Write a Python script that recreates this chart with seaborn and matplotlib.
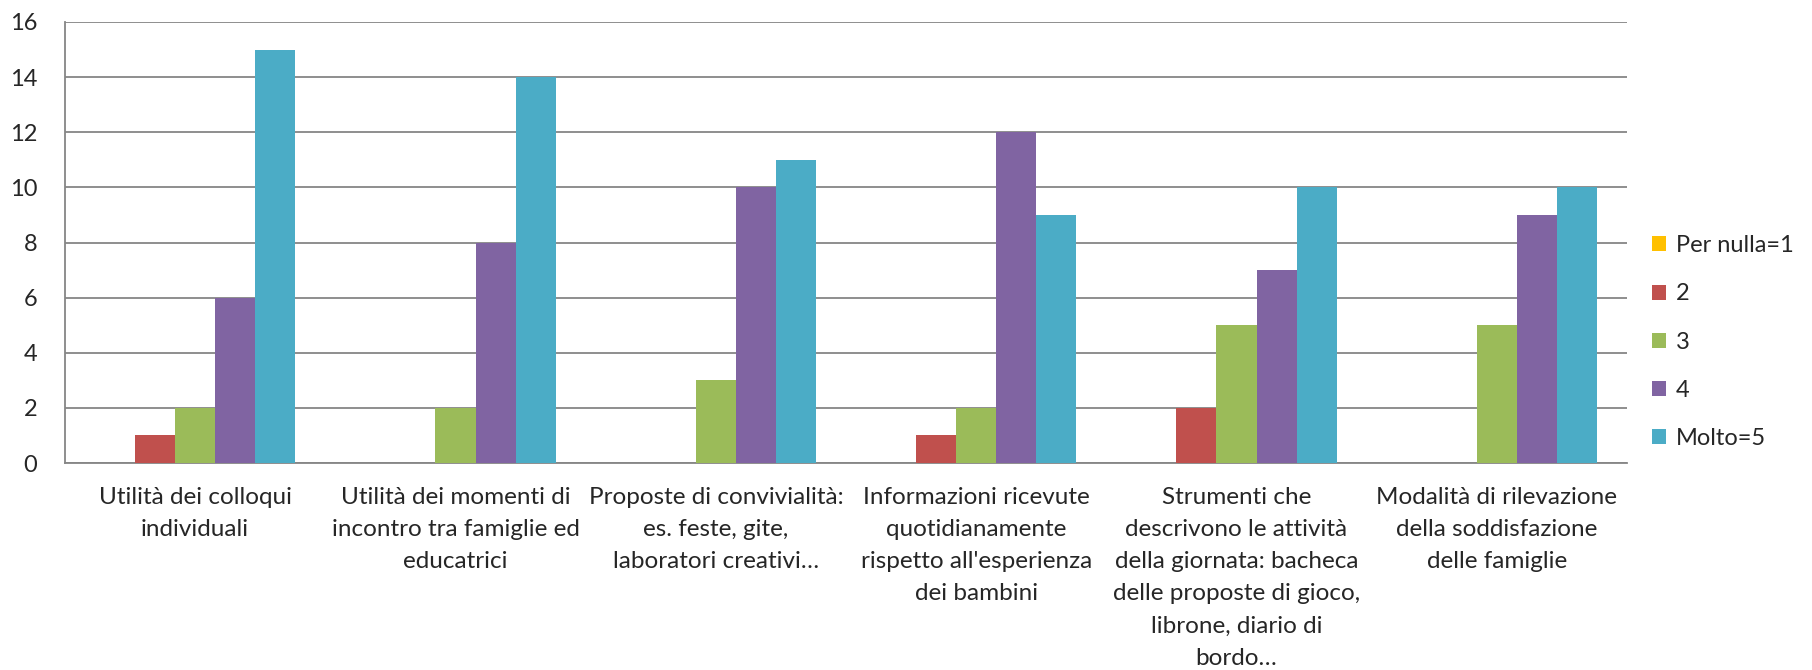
import pandas as pd
import matplotlib.pyplot as plt
import seaborn as sns

# categorie (asse x)
categorie = [
    "Utilità dei colloqui\nindividuali",
    "Utilità dei momenti di\nincontro tra famiglie ed\neducatrici",
    "Proposte di convivialità:\nes. feste, gite,\nlaboratori creativi…",
    "Informazioni ricevute\nquotidianamente\nrispetto all'esperienza\ndei bambini",
    "Strumenti che\ndescrivono le attività\ndella giornata: bacheca\ndelle proposte di gioco,\nlibrone, diario di\nbordo…",
    "Modalità di rilevazione\ndella soddisfazione\ndelle famiglie",
]
serie = ["Per nulla=1", "2", "3", "4", "Molto=5"]

per_nulla = [0, 0, 0, 0, 0, 0]
val_2 = [1, 0, 0, 1, 2, 0]
val_3 = [2, 2, 3, 2, 5, 5]
val_4 = [6, 8, 10, 12, 7, 9]
molto = [15, 14, 11, 9, 10, 10]

colori = ["#FFC000", "#C0504D", "#9BBB59", "#8064A2", "#4BACC6"]

df = pd.DataFrame({"categoria": categorie * 5,
                   "serie": [s for s in serie for _ in categorie],
                   "valore": per_nulla + val_2 + val_3 + val_4 + molto})

sns.set_style("white")
plt.rcParams['font.family'] = ['Lato', 'DejaVu Sans']

fig = plt.figure(figsize=(18.12, 6.7), dpi=100)
ax = fig.add_axes([65 / 1812, 1 - 463 / 670, (1627 - 65) / 1812, (463 - 22) / 670])

sns.barplot(data=df, x="categoria", y="valore", hue="serie", palette=colori,
            width=0.77, gap=0, saturation=1, linewidth=0, ax=ax, legend=True, zorder=3)

grigio = "#868686"
ax.set_ylim(0, 16)
ax.set_xlim(-0.5, 5.5)
ax.set_yticks(range(0, 17, 2))
ax.yaxis.grid(True, color=grigio, linewidth=1.3, zorder=0)
ax.set_axisbelow(True)
for s in ["top", "right"]:
    ax.spines[s].set_visible(False)
for s in ["left", "bottom"]:
    ax.spines[s].set_color(grigio)
    ax.spines[s].set_linewidth(1.3)

ax.set_xlabel("")
ax.set_ylabel("")
ax.tick_params(axis="y", length=8, width=1.3, color=grigio, pad=12, labelsize=17)
ax.tick_params(axis="x", which="major", length=0, pad=17, labelsize=17.5)
ax.set_xticks([i - 0.5 for i in range(7)], minor=True)
ax.tick_params(axis="x", which="minor", length=8, width=1.3, color=grigio, direction="out")
for t in ax.get_xticklabels():
    t.set_linespacing(1.66)
    t.set_verticalalignment("top")

ax.legend(loc="center left", bbox_to_anchor=(1631 / 1812, 1 - 342 / 670),
          bbox_transform=fig.transFigure, frameon=False, fontsize=17,
          handlelength=0.6, handleheight=0.6, handletextpad=0.4, labelspacing=1.15)

plt.savefig("out.png", dpi=100)
plt.close()
